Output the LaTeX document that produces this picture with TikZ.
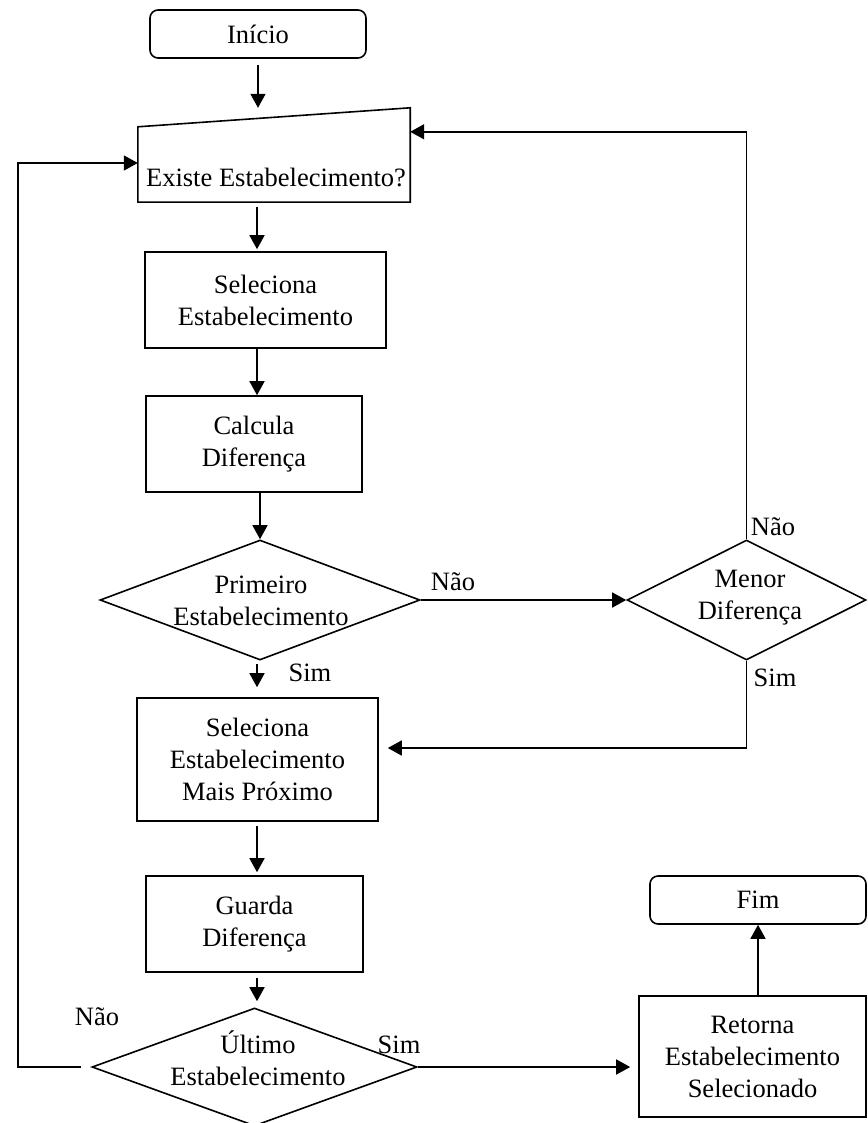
\documentclass[tikz,border=0pt]{standalone}
\usepackage{fontspec}
\setmainfont{Liberation Serif}
\usetikzlibrary{arrows.meta,shapes.geometric,calc}
\begin{document}
\begin{tikzpicture}[x=1pt,y=-1pt,
  every node/.style={font=\fontsize{26.5}{32}\selectfont, align=center, inner sep=0pt},
  lw/.style={line width=1.6pt},
  term/.style={draw, lw, rounded corners=8pt, minimum width=216pt, minimum height=48pt},
  proc/.style={draw, lw, minimum height=96pt},
  dia/.style={draw, lw, shape=diamond, inner sep=0pt},
  arr/.style={lw, -{Triangle[length=14pt,width=15pt]}}]
\useasboundingbox (0,0) rectangle (867,1123);
\coordinate (col) at (257,0);
\coordinate (lft) at (18,0);
% nodes
\node[term] (start) at (258,34) {Início};
\node[minimum width=272pt, minimum height=94pt] (exist) at (274,155) {};
\draw[lw] (exist.south west) -- (exist.south east) -- (exist.north east) -- ([yshift=-19pt]exist.north west) -- cycle;
\node[anchor=base] (existt) at (276,187) {Existe Estabelecimento?};
\node[proc, minimum width=241pt] (sel1) at (265.5,300) {Seleciona\\Estabelecimento};
\node[proc, minimum width=216pt] (calc) at (254,444) {Calcula\\Diferença};
\node[dia, minimum width=320pt, minimum height=120pt] (prim) at (260,600) {};
\node (primt) at (261,601) {Primeiro\\Estabelecimento};
\node[dia, minimum width=239pt, minimum height=120pt] (menor) at (746.5,600) {};
\node (menort) at (750,598) {Menor\\Diferença};
\node[proc, minimum width=241pt, minimum height=123pt] (sel2) at (257.5,759.5) {Seleciona\\Estabelecimento\\Mais Próximo};
\node[proc, minimum width=217pt] (guarda) at (254.5,924) {Guarda\\Diferença};
\node[dia, minimum width=325pt, minimum height=118pt] (ult) at (254.5,1067) {};
\node (ultt) at (258,1058) {Último\\Estabelecimento};
\node[term] (fim) at (758,900) {Fim};
\node[proc, minimum width=227pt, minimum height=121pt] (ret) at (752.5,1056.5) {Retorna\\Estabelecimento\\Selecionado};
% labels
\node (l1) at (453,582) {Não};
\node (l2) at (310,673) {Sim};
\node (l3) at (773,527) {Não};
\node (l4) at (775,678) {Sim};
\node (l5) at (97,1017) {Não};
\node (l6) at (399,1045) {Sim};
% connectors
\draw[arr, shorten <=6pt] (start.south) -- (start.south |- exist.north);
\draw[arr, shorten <=5pt, shorten >=2pt] (exist.south -| col) -- (sel1.north -| col);
\draw[arr] (sel1.south -| col) -- (calc.north -| col);
\draw[arr] (calc.south -| prim.north) -- (prim.north);
\draw[arr, shorten <=3pt, shorten >=10pt] (prim.south -| col) -- (sel2.north -| col);
\draw[arr, shorten <=4pt, shorten >=3pt] (sel2.south -| col) -- (guarda.north -| col);
\draw[arr, shorten <=5pt, shorten >=6pt] (guarda.south -| col) -- (ult.north -| col);
\draw[arr] (prim.east) -- (menor.west);
\draw[arr] (menor.north) |- ([yshift=-24pt]exist.north east);
\draw[arr, shorten >=9pt] (menor.south) |- ([yshift=11.5pt]sel2.east);
\draw[arr, shorten <=10pt] (ult.west) -- (ult.west -| lft) |- ([yshift=-8pt]exist.west);
\draw[arr, shorten >=8pt] (ult.east) -- (ult.east -| ret.west);
\draw[arr] (fim.south |- ret.north) -- (fim.south);
\end{tikzpicture}
\end{document}
